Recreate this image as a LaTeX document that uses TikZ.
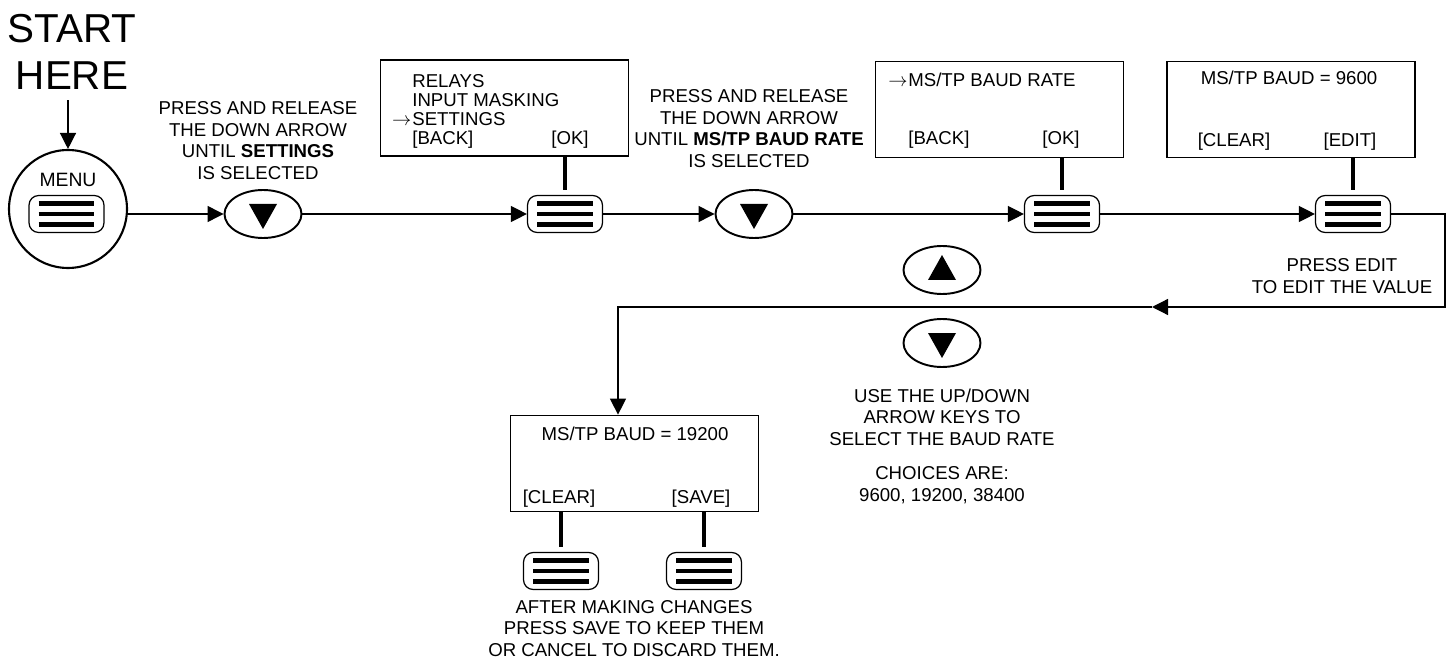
\documentclass[tikz,border=0pt]{standalone}
\usepackage{fontspec}
\setmainfont{Liberation Sans}
\usepackage{tikz}
\usetikzlibrary{shapes.geometric, arrows.meta, positioning, calc}

\newcommand{\selmark}{\llap{$\rightarrow$\kern0.5pt}}

\begin{document}
\begin{tikzpicture}[
    x=0.02cm, y=-0.02cm,
    note/.style={font=\fontsize{10.6}{12.4}\selectfont, align=center, inner sep=0pt},
    lcdtext/.style={font=\fontsize{10.6}{12.4}\selectfont, inner sep=0pt},
    lcd/.style={draw, line width=1pt, minimum width=4.96cm, minimum height=1.92cm, inner sep=0pt},
    menukey/.style={draw, line width=0.7pt, rounded corners=5.5pt, minimum width=1.5cm, minimum height=0.74cm, inner sep=0pt,
        path picture={\foreach \dy in {-0.21cm,0cm,0.21cm}
            \draw[line width=2.8pt] ([xshift=-0.56cm, yshift=\dy]path picture bounding box.center) -- ++(1.12cm,0);}},
    downkey/.style={draw, ellipse, line width=1.1pt, minimum width=1.54cm, minimum height=0.96cm, inner sep=0pt,
        path picture={\fill ([xshift=-0.28cm, yshift=0.2cm]path picture bounding box.center) -- ++(0.56cm,0)
            -- ([yshift=-0.3cm]path picture bounding box.center) -- cycle;}},
    upkey/.style={draw, ellipse, line width=1.1pt, minimum width=1.54cm, minimum height=0.96cm, inner sep=0pt,
        path picture={\fill ([xshift=-0.28cm, yshift=-0.2cm]path picture bounding box.center) -- ++(0.56cm,0)
            -- ([yshift=0.3cm]path picture bounding box.center) -- cycle;}},
    link/.style={line width=0.75pt, -{Triangle[length=0.32cm, width=0.32cm]}},
    stem/.style={line width=2.7pt, shorten <=0.1cm}
]
    \useasboundingbox (0,0) rectangle (1452,668);

    % --- Start ---
    \node (start) [font=\fontsize{23}{27.2}\selectfont, align=center, inner sep=0pt] at (72,52) {START\\HERE};
    \node (menu) [draw, circle, line width=1.2pt, minimum size=2.36cm, inner sep=0pt] at (68,209) {};
    \node (menu label) [font=\fontsize{11}{13}\selectfont, inner sep=0pt] at (68,180) {MENU};
    \node (menu key) [menukey] at (66.5,214) {};

    % --- Top row ---
    \node (down1) [downkey] at (263,214) {};
    \node (hint1) [note] at (258,140.5) {PRESS AND RELEASE\\THE DOWN ARROW\\UNTIL \textbf{SETTINGS}\\IS SELECTED};

    \node (lcd1) [lcd] at (504.5,108) {};
    \node (lcd1 relays) [lcdtext, anchor=base west] at (412,88) {RELAYS};
    \node (lcd1 masking) [lcdtext, anchor=base west] at (412,107) {INPUT MASKING};
    \node (lcd1 settings) [lcdtext, anchor=base west] at (412,126) {\selmark SETTINGS};
    \node (lcd1 back) [lcdtext, anchor=base west] at (412,145) {[BACK]};
    \node (lcd1 ok) [lcdtext, anchor=base] at (570,145) {[OK]};
    \node (okkey1) [menukey] at (565,214) {};

    \node (down2) [downkey] at (754,214) {};
    \node (hint2) [note] at (749,128.5) {PRESS AND RELEASE\\THE DOWN ARROW\\UNTIL \textbf{MS/TP BAUD RATE}\\IS SELECTED};

    \node (lcd2) [lcd] at (999.5,109.5) {};
    \node (lcd2 rate) [lcdtext, anchor=base west] at (908,87) {\selmark MS/TP BAUD RATE};
    \node (lcd2 back) [lcdtext, anchor=base west] at (908,145) {[BACK]};
    \node (lcd2 ok) [lcdtext, anchor=base] at (1061,145) {[OK]};
    \node (okkey2) [menukey] at (1062,214) {};

    \node (lcd3) [lcd] at (1291,109.5) {};
    \node (lcd3 value) [lcdtext, anchor=base] at (1289,85) {MS/TP BAUD = 9600};
    \node (lcd3 clear) [lcdtext, anchor=base] at (1234,146.5) {[CLEAR]};
    \node (lcd3 edit) [lcdtext, anchor=base] at (1350,146.5) {[EDIT]};
    \node (editkey) [menukey] at (1353,214) {};
    \node (hint3) [note] at (1342,276) {PRESS EDIT\\TO EDIT THE VALUE};

    % --- Up / down selection ---
    \node (upkey) [upkey] at (942,270) {};
    \node (down3) [downkey] at (942,343) {};
    \node (hint4) [note] at (942,446) {USE THE UP/DOWN\\ARROW KEYS TO\\SELECT THE BAUD RATE\\[6.8pt]CHOICES ARE:\\9600, 19200, 38400};

    % --- Save screen ---
    \node (lcd4) [lcd] at (634.5,463.5) {};
    \node (lcd4 value) [lcdtext, anchor=base] at (635,440) {MS/TP BAUD = 19200};
    \node (lcd4 clear) [lcdtext, anchor=base] at (559,503) {[CLEAR]};
    \node (lcd4 save) [lcdtext, anchor=base] at (701,503) {[SAVE]};
    \node (clearkey) [menukey] at (561,571) {};
    \node (savekey) [menukey] at (704,571) {};
    \node (hint5) [note] at (634,628.5) {AFTER MAKING CHANGES\\PRESS SAVE TO KEEP THEM\\OR CANCEL TO DISCARD THEM.};

    \coordinate (loop corner) at (1445,307);
    \coordinate (loop tip) at (1152,307);
    \coordinate (drop) at (618,307);

    % --- Connections ---
    \draw [link, shorten <=0.2cm] (menu.north |- start.south) -- (menu.north);
    \draw [link] (menu.east |- menu key) -- (down1);
    \draw [link] (down1) -- (okkey1);
    \draw [link] (okkey1) -- (down2);
    \draw [link] (down2) -- (okkey2);
    \draw [link] (okkey2) -- (editkey);
    \draw [link] (editkey) -| (loop corner) -- (loop tip);
    \draw [link] (loop tip) -- (drop) -- (drop |- lcd4.north);

    \draw [stem] (okkey1.north) -- (okkey1.north |- lcd1.south);
    \draw [stem] (okkey2.north) -- (okkey2.north |- lcd2.south);
    \draw [stem] (editkey.north) -- (editkey.north |- lcd3.south);
    \draw [stem] (clearkey.north) -- (clearkey.north |- lcd4.south);
    \draw [stem] (savekey.north) -- (savekey.north |- lcd4.south);

\end{tikzpicture}
\end{document}
